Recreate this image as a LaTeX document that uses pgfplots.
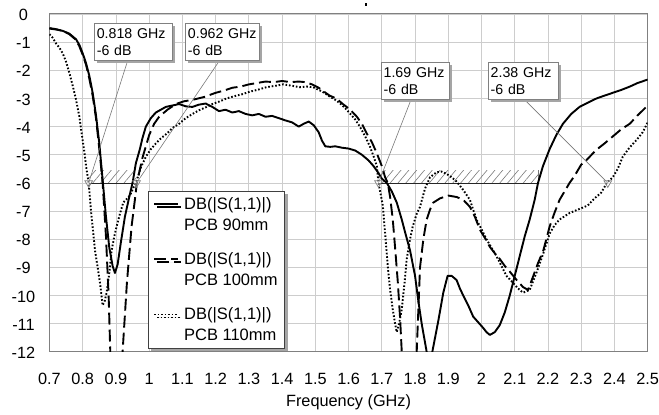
\documentclass[border=0pt]{standalone}
\usepackage{fontspec}
\setmainfont{Liberation Sans}
\usepackage{pgfplots}
\pgfplotsset{compat=1.18}
\usetikzlibrary{shadows,patterns.meta}

\definecolor{gridgray}{RGB}{205,205,205}
\definecolor{framegray}{RGB}{128,128,128}
\definecolor{hatchgray}{RGB}{120,120,120}
\definecolor{shadowgray}{RGB}{165,165,165}

\begin{document}
\begin{tikzpicture}[
    anno/.style={draw=framegray, fill=white, line width=0.7pt, align=left,
        inner xsep=2.5pt, inner ysep=0pt, minimum height=37pt,
        font=\fontsize{14.2}{17}\selectfont,
        drop shadow={shadow xshift=3pt, shadow yshift=-3pt, fill=shadowgray, opacity=1}},
    callout/.style={draw=hatchgray, line width=0.6pt}
]
\begin{axis}[
    at={(0,0)}, anchor=south west,
    scale only axis,
    width=598.5pt, height=338pt,
    xmin=0.7, xmax=2.5, ymin=-12, ymax=0,
    xtick={0.7,0.8,0.9,1,1.1,1.2,1.3,1.4,1.5,1.6,1.7,1.8,1.9,2,2.1,2.2,2.3,2.4,2.5},
    ytick={-12,-11,-10,-9,-8,-7,-6,-5,-4,-3,-2,-1,0},
    grid=major,
    grid style={draw=gridgray, line width=0.8pt},
    axis line style={draw=framegray, line width=1pt},
    major tick length=0pt,
    /pgf/number format/assume math mode=true,
    tick label style={font=\fontsize{16.3}{19}\selectfont, inner sep=0pt},
    xticklabel style={anchor=north, yshift=-21pt},
    yticklabel style={anchor=center, xshift=-26pt, yshift=-1pt},
    xlabel={Frequency (GHz)},
    xlabel style={at={(axis description cs:0.5,0)}, anchor=north, inner sep=0pt,
        yshift=-43pt, font=\fontsize{16.3}{19}\selectfont},
    legend style={at={(axis cs:0.996,-6.28)}, anchor=north west,
        draw=black!75, fill=white, line width=0.8pt,
        inner xsep=5pt, inner ysep=4pt, row sep=17pt, column sep=3pt,
        font=\fontsize{16.5}{21}\selectfont,
        cells={align=left, anchor=base west},
        drop shadow={shadow xshift=3pt, shadow yshift=-3pt, fill=shadowgray, opacity=1}},
    legend image code/.code={\draw[#1] (0pt,26.5pt) -- (24pt,26.5pt);},
]

% hatched -6 dB bands
\addplot[forget plot, draw=none, pattern={Lines[angle=50,distance=6pt,line width=0.6pt]},
    pattern color=hatchgray] coordinates {(0.818,-6) (0.962,-6) (0.962,-5.55) (0.818,-5.55)} -- cycle;
\addplot[forget plot, draw=none, pattern={Lines[angle=50,distance=6pt,line width=0.6pt]},
    pattern color=hatchgray] coordinates {(1.69,-6) (2.17,-6) (2.17,-5.55) (1.69,-5.55)} -- cycle;
\addplot[forget plot, black!85, line width=0.8pt] coordinates {(0.818,-6) (0.962,-6)};
\addplot[forget plot, black!85, line width=0.8pt] coordinates {(1.69,-6) (2.17,-6)};
\addplot[forget plot, hatchgray, line width=0.8pt] coordinates {(2.17,-6) (2.17,-5.55)};

% PCB 90mm
\addplot[black, line width=1.9pt, line join=round] coordinates {
(0.70,-0.52) (0.72,-0.55) (0.74,-0.6) (0.76,-0.7) (0.78,-0.9) (0.79,-1.1) (0.80,-1.4)
(0.81,-1.75) (0.82,-2.2) (0.83,-2.8) (0.84,-3.6) (0.85,-4.6) (0.86,-5.9) (0.87,-7.2)
(0.88,-8.3) (0.89,-8.95) (0.897,-9.2) (0.905,-8.9) (0.915,-8.1) (0.927,-7.2) (0.94,-6.5)
(0.95,-6.0) (0.96,-5.3) (0.972,-4.8) (0.98,-4.4) (0.99,-4.0) (1.005,-3.7) (1.02,-3.5)
(1.035,-3.4) (1.05,-3.3) (1.07,-3.25) (1.09,-3.2) (1.11,-3.28) (1.13,-3.3) (1.15,-3.22)
(1.17,-3.18) (1.19,-3.3) (1.21,-3.45) (1.23,-3.4) (1.25,-3.5) (1.27,-3.45) (1.29,-3.55)
(1.31,-3.6) (1.33,-3.55) (1.35,-3.65) (1.37,-3.62) (1.39,-3.7) (1.41,-3.78) (1.43,-3.85)
(1.45,-4.0) (1.465,-3.9) (1.48,-3.82) (1.495,-3.95) (1.51,-4.2) (1.52,-4.5) (1.53,-4.7)
(1.545,-4.72) (1.56,-4.7) (1.58,-4.75) (1.60,-4.78) (1.62,-4.85) (1.64,-5.0) (1.66,-5.2)
(1.675,-5.4) (1.69,-5.65) (1.70,-5.85) (1.715,-6.0) (1.73,-6.3) (1.745,-6.7) (1.76,-7.3)
(1.77,-7.75) (1.785,-8.4) (1.80,-9.3) (1.81,-10.2) (1.82,-11.0) (1.835,-12.0) (1.84,-12.5)
(1.848,-12.5) (1.852,-12.0) (1.87,-10.9) (1.885,-9.9) (1.898,-9.3) (1.91,-9.3) (1.925,-9.45)
(1.935,-9.75) (1.945,-10.0) (1.96,-10.35) (1.975,-10.75) (1.99,-10.95) (2.005,-11.15)
(2.015,-11.3) (2.025,-11.4) (2.04,-11.3) (2.055,-11.05) (2.07,-10.6) (2.085,-10.0)
(2.10,-9.3) (2.115,-8.6) (2.13,-7.9) (2.145,-7.3) (2.16,-6.6) (2.17,-6.0) (2.185,-5.4)
(2.205,-4.8) (2.225,-4.3) (2.245,-3.9) (2.27,-3.55) (2.295,-3.3) (2.32,-3.15) (2.346,-3.0)
(2.37,-2.9) (2.395,-2.8) (2.42,-2.7) (2.446,-2.58) (2.47,-2.45) (2.5,-2.33)
};
\addlegendentry{DB(|S(1,1)|)\\PCB 90mm}

% PCB 100mm
\addplot[black, line width=1.9pt, dash pattern=on 12pt off 5pt] coordinates {
(0.70,-0.5) (0.72,-0.54) (0.74,-0.6) (0.76,-0.72) (0.78,-0.92) (0.79,-1.15) (0.80,-1.45)
(0.81,-1.8) (0.82,-2.3) (0.83,-2.9) (0.84,-3.7) (0.85,-4.8) (0.86,-6.0) (0.87,-7.9)
(0.878,-10.0) (0.883,-12.0) (0.886,-12.8) (0.917,-12.8) (0.920,-12.0) (0.933,-9.55)
(0.947,-7.55) (0.957,-6.6) (0.963,-6.0) (0.98,-5.1) (1.0,-4.3) (1.015,-3.9) (1.03,-3.65)
(1.055,-3.4) (1.08,-3.2) (1.105,-3.1) (1.13,-3.05) (1.165,-2.95) (1.2,-2.8) (1.225,-2.72)
(1.25,-2.62) (1.275,-2.58) (1.3,-2.5) (1.325,-2.45) (1.35,-2.4) (1.375,-2.42) (1.4,-2.38)
(1.425,-2.42) (1.45,-2.4) (1.47,-2.42) (1.49,-2.5) (1.51,-2.62) (1.525,-2.75) (1.543,-2.9)
(1.563,-3.0) (1.583,-3.2) (1.605,-3.4) (1.625,-3.65) (1.64,-3.9) (1.655,-4.25) (1.67,-4.55)
(1.685,-4.95) (1.7,-5.4) (1.71,-5.8) (1.718,-6.0) (1.725,-6.5) (1.733,-7.3) (1.74,-8.3)
(1.748,-9.5) (1.755,-10.8) (1.76,-12.0) (1.763,-12.8) (1.802,-12.8) (1.805,-12.0)
(1.815,-9.0) (1.825,-8.0) (1.835,-7.3) (1.845,-6.95) (1.855,-6.7) (1.875,-6.55) (1.9,-6.45)
(1.925,-6.5) (1.945,-6.6) (1.965,-6.85) (1.98,-7.2) (1.995,-7.66) (2.01,-7.95) (2.025,-8.27)
(2.04,-8.5) (2.055,-8.7) (2.07,-8.95) (2.085,-9.15) (2.105,-9.44) (2.125,-9.7) (2.14,-9.8)
(2.156,-9.3) (2.17,-8.85) (2.186,-8.4) (2.205,-7.55) (2.22,-7.05) (2.235,-6.6) (2.25,-6.3)
(2.265,-6.0) (2.28,-5.75) (2.3,-5.35) (2.315,-5.2) (2.345,-4.83) (2.37,-4.6) (2.395,-4.35)
(2.42,-4.1) (2.446,-3.9) (2.47,-3.6) (2.5,-3.25)
};
\addlegendentry{DB(|S(1,1)|)\\PCB 100mm}

% PCB 110mm
\addplot[black, line width=1.9pt, dash pattern=on 1.6pt off 1.9pt] coordinates {
(0.70,-0.72) (0.71,-0.85) (0.72,-1.05) (0.73,-1.2) (0.74,-1.4) (0.75,-1.7) (0.76,-2.1)
(0.77,-2.55) (0.78,-3.05) (0.79,-3.65) (0.797,-4.25) (0.805,-4.9) (0.81,-5.4) (0.818,-6.0)
(0.825,-7.0) (0.837,-8.4) (0.845,-9.0) (0.852,-9.55) (0.86,-10.35) (0.866,-10.2) (0.872,-9.9)
(0.88,-9.2) (0.887,-8.4) (0.895,-7.9) (0.902,-7.55) (0.912,-7.1) (0.922,-6.7) (0.942,-6.45)
(0.963,-5.9) (0.975,-5.45) (0.99,-5.07) (1.005,-4.8) (1.02,-4.6) (1.035,-4.42) (1.053,-4.25)
(1.07,-4.05) (1.09,-3.9) (1.11,-3.7) (1.132,-3.54) (1.15,-3.42) (1.173,-3.3) (1.19,-3.2)
(1.213,-3.1) (1.233,-3.0) (1.253,-2.93) (1.28,-2.85) (1.303,-2.76) (1.33,-2.68) (1.353,-2.6)
(1.38,-2.55) (1.403,-2.5) (1.43,-2.55) (1.453,-2.6) (1.475,-2.58) (1.493,-2.6) (1.52,-2.75)
(1.543,-2.93) (1.56,-3.05) (1.574,-3.17) (1.59,-3.35) (1.604,-3.53) (1.62,-3.75) (1.634,-4.0)
(1.65,-4.35) (1.664,-4.7) (1.675,-5.05) (1.685,-5.4) (1.69,-6.0) (1.703,-6.8) (1.71,-7.8)
(1.718,-8.97) (1.725,-9.8) (1.733,-10.5) (1.74,-11.0) (1.745,-11.3) (1.752,-11.0) (1.76,-10.5)
(1.768,-9.6) (1.775,-8.7) (1.785,-8.0) (1.793,-7.55) (1.805,-7.1) (1.815,-6.85) (1.83,-6.2)
(1.845,-5.8) (1.865,-5.62) (1.88,-5.6) (1.895,-5.68) (1.91,-5.8) (1.925,-5.95) (1.945,-6.25)
(1.965,-6.6) (1.985,-7.3) (2.0,-7.65) (2.015,-8.0) (2.03,-8.3) (2.045,-8.6) (2.06,-8.95)
(2.075,-9.3) (2.095,-9.55) (2.11,-9.75) (2.125,-9.9) (2.145,-9.8) (2.165,-9.2) (2.186,-8.5)
(2.205,-7.8) (2.22,-7.5) (2.235,-7.3) (2.265,-7.07) (2.3,-6.9) (2.32,-6.8) (2.34,-6.55)
(2.36,-6.35) (2.377,-6.0) (2.395,-5.8) (2.41,-5.5) (2.425,-5.07) (2.445,-4.75) (2.467,-4.47)
(2.485,-4.2) (2.5,-3.85)
};
\addlegendentry{DB(|S(1,1)|)\\PCB 110mm}

% callouts
\draw[callout] (axis cs:0.936,-1.63) -- (axis cs:0.818,-6);
\draw[callout] (axis cs:1.213,-1.63) -- (axis cs:0.962,-6);
\draw[callout] (axis cs:1.79,-2.98) -- (axis cs:1.69,-6);
\draw[callout] (axis cs:2.124,-2.98) -- (axis cs:2.38,-6);

\addplot[forget plot, only marks, mark=triangle*, mark size=4.5pt,
    mark options={rotate=180, draw=framegray, fill=white, fill opacity=0.4, line width=0.7pt}]
    coordinates {(0.818,-6) (0.962,-6) (1.69,-6) (2.38,-6)};

\node[anno, anchor=north west, text width=73pt] at (axis cs:0.834,-0.32) {0.818 GHz\\-6 dB};
\node[anno, anchor=north west, text width=69pt] at (axis cs:1.108,-0.32) {0.962 GHz\\-6 dB};
\node[anno, anchor=north west, text width=63pt] at (axis cs:1.697,-1.70) {1.69 GHz\\-6 dB};
\node[anno, anchor=north west, text width=65pt] at (axis cs:2.019,-1.70) {2.38 GHz\\-6 dB};
\end{axis}
% small stray mark above the plot
\fill (316pt,345.5pt) rectangle (317.6pt,348.5pt);
\path (-49.5pt,-63pt) rectangle (609.5pt,352pt);
\end{tikzpicture}
\end{document}
